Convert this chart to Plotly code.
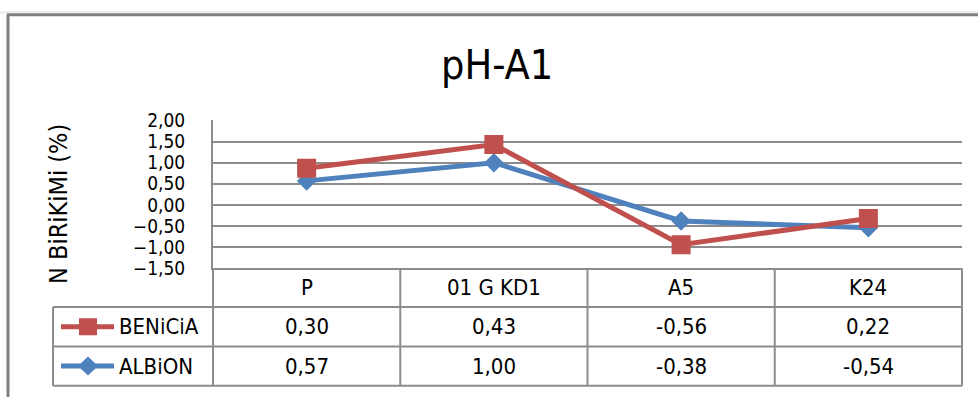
import plotly.graph_objects as go

# ---- data ----
categories = ["P", "01 G KD1", "A5", "K24"]
series_names = ["BENiCiA", "ALBiON"]
benicia = [0.30, 0.43, -0.56, 0.22]
albion = [0.57, 1.00, -0.38, -0.54]
y_ticks = [2.0, 1.5, 1.0, 0.5, 0.0, -0.5, -1.0, -1.5]
title_text = "pH-A1"
y_title = "N BiRiKiMi (%)"

# stacked line chart: BENiCiA is stacked on ALBiON
benicia_stacked = [a + b for a, b in zip(albion, benicia)]

W, H = 978, 408
FONT = "Liberation Sans Narrow, Arial Narrow, DejaVu Sans Condensed, sans-serif"
RED = "#C0504D"
BLUE = "#4F81BD"
GRID = "#8C8C8C"

def px(x):
    return x / W

def py(y):
    return 1 - y / H

# layout geometry (pixels)
PL, PR, PT, PB = 213, 962, 115.7, 272
ROW1, ROW2, ROW3 = 313, 354.5, 396
LEG_L = 53

fig = go.Figure()
fig.add_trace(go.Scatter(
    x=list(range(len(categories))), y=albion, mode="lines+markers",
    line=dict(color=BLUE, width=5), marker=dict(symbol="diamond", size=15, color=BLUE),
    name=series_names[1], hoverinfo="skip"))
fig.add_trace(go.Scatter(
    x=list(range(len(categories))), y=benicia_stacked, mode="lines+markers",
    line=dict(color=RED, width=5), marker=dict(symbol="square", size=19, color=RED),
    name=series_names[0], hoverinfo="skip"))

shapes = []
# outer chart border
shapes.append(dict(type="rect", xref="paper", yref="paper", x0=0, x1=1, y0=py(3), y1=1,
                   fillcolor="#ECECEC", line=dict(width=0), layer="below"))
shapes.append(dict(type="line", xref="paper", yref="paper", x0=px(7), x1=1, y0=py(4), y1=py(4),
                   line=dict(color="#7F7F7F", width=3)))
shapes.append(dict(type="line", xref="paper", yref="paper", x0=px(8), x1=px(8), y0=py(4), y1=0,
                   line=dict(color="#7F7F7F", width=3)))

def hline(x0, x1, y):
    shapes.append(dict(type="line", xref="paper", yref="paper", x0=px(x0), x1=px(x1),
                       y0=py(y), y1=py(y), line=dict(color=GRID, width=2)))

def vline(x, y0, y1):
    shapes.append(dict(type="line", xref="paper", yref="paper", x0=px(x), x1=px(x),
                       y0=py(y0), y1=py(y1), line=dict(color=GRID, width=2)))

# table grid
hline(LEG_L, PR, ROW1)
hline(LEG_L, PR, ROW2)
hline(LEG_L, PR, ROW3)
colw = (PR - PL) / len(categories)
for i in range(len(categories) + 1):
    vline(PL + i * colw, PB, ROW3)
vline(LEG_L, ROW1, ROW3)

annotations = []
# title
annotations.append(dict(text=title_text, x=px(497), y=py(57), xref="paper", yref="paper",
                        showarrow=False, font=dict(family=FONT, size=41, color="black"),
                        xanchor="center", yanchor="middle"))
# y axis title
annotations.append(dict(text=y_title, x=px(58), y=py(204), xref="paper", yref="paper",
                        showarrow=False, textangle=-90, font=dict(family=FONT, size=25, color="black"),
                        xanchor="center", yanchor="middle"))

def fmt(v):
    return f"{v:.2f}".replace(".", ",")

TF = 22
row_mid = [(PB + ROW1) / 2, (ROW1 + ROW2) / 2, (ROW2 + ROW3) / 2]
for i, c in enumerate(categories):
    annotations.append(dict(text=c, x=i, y=py(row_mid[0]), xref="x", yref="paper", showarrow=False,
                            font=dict(family=FONT, size=TF, color="black"), xanchor="center", yanchor="middle"))
    annotations.append(dict(text=fmt(benicia[i]), x=i, y=py(row_mid[1]), xref="x", yref="paper",
                            showarrow=False, font=dict(family=FONT, size=TF, color="black"),
                            xanchor="center", yanchor="middle"))
    annotations.append(dict(text=fmt(albion[i]), x=i, y=py(row_mid[2]), xref="x", yref="paper",
                            showarrow=False, font=dict(family=FONT, size=TF, color="black"),
                            xanchor="center", yanchor="middle"))

# legend keys in table
for name, color, sym, ym in [(series_names[0], RED, "square", row_mid[1]),
                             (series_names[1], BLUE, "diamond", row_mid[2])]:
    shapes.append(dict(type="line", xref="paper", yref="paper", x0=px(61), x1=px(114),
                       y0=py(ym), y1=py(ym), line=dict(color=color, width=5)))
    cx = 88
    if sym == "square":
        shapes.append(dict(type="rect", xref="paper", yref="paper", x0=px(cx - 9), x1=px(cx + 9),
                           y0=py(ym - 9), y1=py(ym + 9), fillcolor=color, line=dict(width=0)))
    else:
        path = "M {} {} L {} {} L {} {} L {} {} Z".format(
            px(cx), py(ym - 10), px(cx + 10), py(ym), px(cx), py(ym + 10), px(cx - 10), py(ym))
        shapes.append(dict(type="path", xref="paper", yref="paper", path=path,
                           fillcolor=color, line=dict(width=0)))
    annotations.append(dict(text=name, x=px(117), y=py(ym), xref="paper", yref="paper", showarrow=False,
                            font=dict(family=FONT, size=TF, color="black"), xanchor="left", yanchor="middle"))

fig.update_layout(
    width=W, height=H, margin=dict(l=0, r=0, t=0, b=0),
    paper_bgcolor="white", plot_bgcolor="white", showlegend=False,
    separators=",.",
    shapes=shapes, annotations=annotations,
    xaxis=dict(domain=[px(PL), px(PR)], range=[-0.5, len(categories) - 0.5],
               showticklabels=False, showgrid=False, zeroline=False,
               showline=True, linecolor=GRID, linewidth=2, fixedrange=True),
    yaxis=dict(domain=[py(PB), py(PT)], range=[-1.5, 2.0], tickvals=y_ticks,
               tickformat=".2f", showgrid=True, gridcolor=GRID, gridwidth=2,
               zeroline=False, showline=True, linecolor=GRID, linewidth=2,
               ticks="", ticklabelstandoff=22,
               tickfont=dict(family=FONT, size=19, color="black"), fixedrange=True),
)

post = (
    "document.documentElement.style.margin='0';"
    "document.body.style.margin='0';document.body.style.padding='0';"
)
fig.write_html("out.html", config={"displayModeBar": False}, post_script=post)
